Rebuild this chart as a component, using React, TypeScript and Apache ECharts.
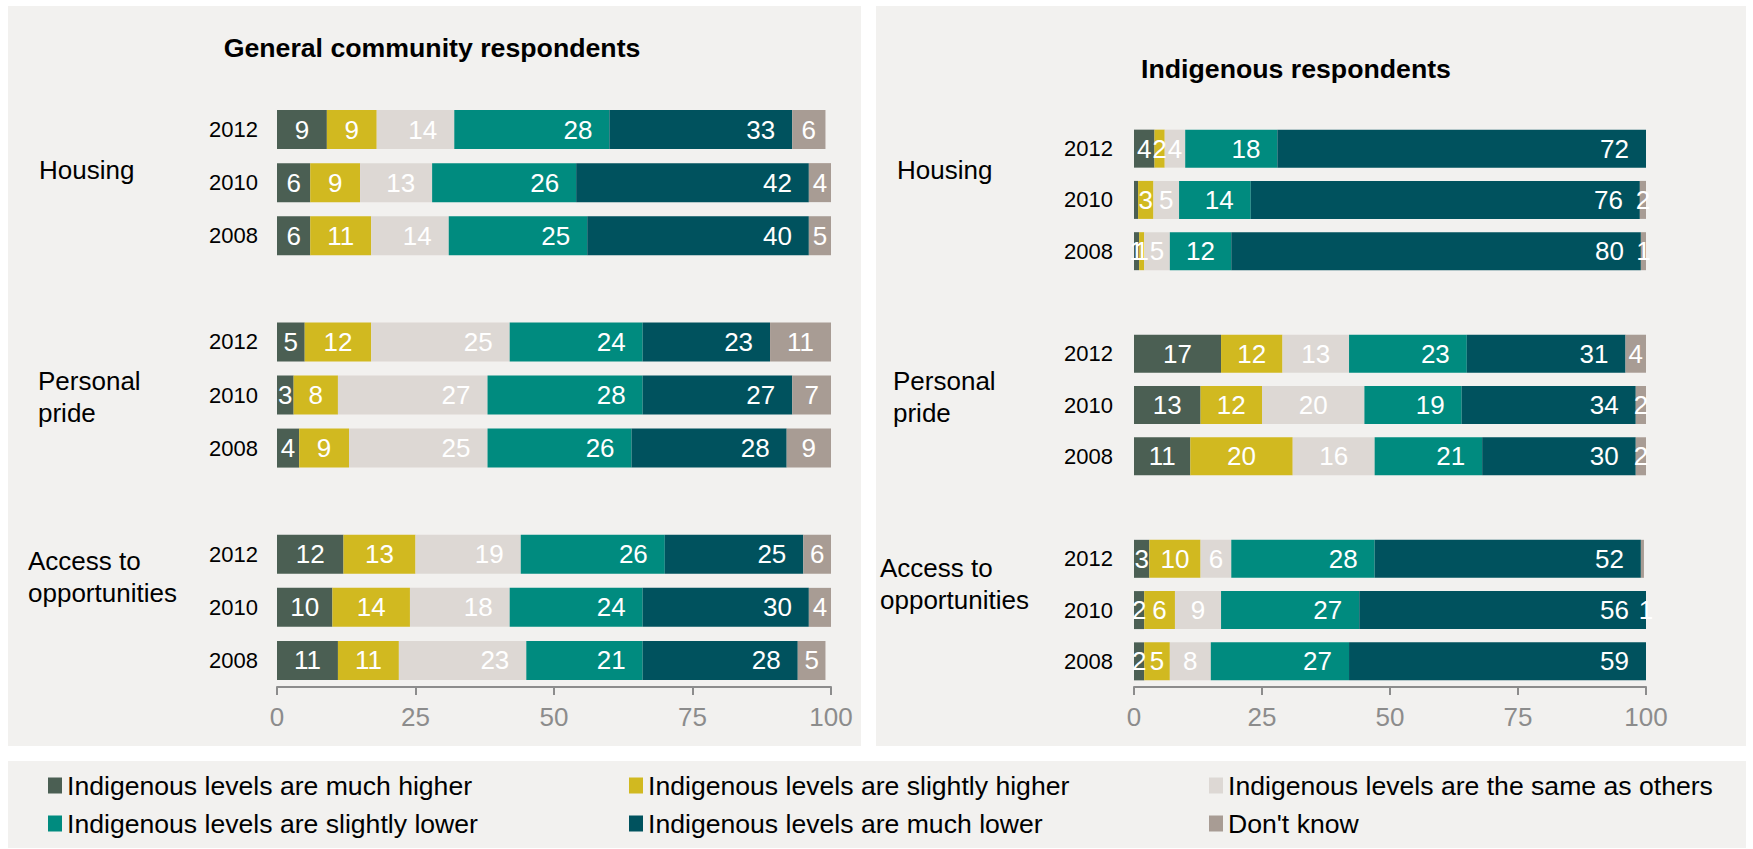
import React, { useEffect, useRef } from 'react';
import * as echarts from 'echarts';

// ---------- data ----------
const groups = ['Housing', 'Personal pride', 'Access to opportunities'];
const groupLabels = ['Housing', 'Personal\npride', 'Access to\nopportunities'];
const years = ['2012', '2010', '2008'];
const seriesNames = [
  'Indigenous levels are much higher',
  'Indigenous levels are slightly higher',
  'Indigenous levels are the same as others',
  'Indigenous levels are slightly lower',
  'Indigenous levels are much lower',
  "Don't know",
];
const colors = ['#4B5F53', '#D1B920', '#DDD8D4', '#008B7F', '#00525E', '#A89C94'];
const xTickMax = 100;
const xTickInterval = 25;
const titles = ['General community respondents', 'Indigenous respondents'];

// order: Housing 2012, 2010, 2008, Personal pride 2012, 2010, 2008, Access 2012, 2010, 2008
const genMuchHigher = [9, 6, 6, 5, 3, 4, 12, 10, 11];
const genSlightlyHigher = [9, 9, 11, 12, 8, 9, 13, 14, 11];
const genSame = [14, 13, 14, 25, 27, 25, 19, 18, 23];
const genSlightlyLower = [28, 26, 25, 24, 28, 26, 26, 24, 21];
const genMuchLower = [33, 42, 40, 23, 27, 28, 25, 30, 28];
const genDontKnow = [6, 4, 5, 11, 7, 9, 6, 4, 5];

const indMuchHigher = [4, 0.8, 1, 17, 13, 11, 3, 2, 2];
const indSlightlyHigher = [2, 3, 1, 12, 12, 20, 10, 6, 5];
const indSame = [4, 5, 5, 13, 20, 16, 6, 9, 8];
const indSlightlyLower = [18, 14, 12, 23, 19, 21, 28, 27, 27];
const indMuchLower = [72, 76, 80, 31, 34, 30, 52, 56, 59];
const indDontKnow = [0.4, 2, 1, 4, 2, 2, 0.6, 1, 0.6];

const genSeries = [genMuchHigher, genSlightlyHigher, genSame, genSlightlyLower, genMuchLower, genDontKnow];
const indSeries = [indMuchHigher, indSlightlyHigher, indSame, indSlightlyLower, indMuchLower, indDontKnow];

const FONT = '"Liberation Sans", Arial, Helvetica, sans-serif';

// ---------- layout ----------
const charts = [
  {
    grid: { left: 277, top: 103, width: 554, height: 584 },
    barWidth: 39,
    rightAligned: [2, 3, 4],
    yLabelMargin: 19,
    titleX: 432,
    titleY: 48,
    groupPos: [
      [39, 170],
      [38, 397],
      [28, 577],
    ],
    series: genSeries,
  },
  {
    grid: { left: 1134, top: 123, width: 512, height: 564 },
    barWidth: 38,
    rightAligned: [3, 4],
    yLabelMargin: 21,
    titleX: 1296,
    titleY: 69,
    groupPos: [
      [897, 170],
      [893, 397],
      [880, 584],
    ],
    series: indSeries,
  },
];

function buildCategories(): string[] {
  const cats: string[] = [];
  groups.forEach((g, gi) => {
    years.forEach((y) => cats.push(`${g}|${y}`));
    if (gi < groups.length - 1) cats.push(`gap${gi}`);
  });
  return cats;
}

function withGaps(values: number[], mapFn: (v: number) => any): any[] {
  const out: any[] = [];
  groups.forEach((_, gi) => {
    for (let yi = 0; yi < years.length; yi++) out.push(mapFn(values[gi * years.length + yi]));
    if (gi < groups.length - 1) out.push('-');
  });
  return out;
}

export default function App() {
  const ref = useRef<HTMLDivElement>(null);

  useEffect(() => {
    if (!ref.current) return;
    const chart = echarts.init(ref.current, undefined, { renderer: 'svg' });
    const cats = buildCategories();

    const grids: any[] = [];
    const xAxes: any[] = [];
    const yAxes: any[] = [];
    const series: any[] = [];
    const graphics: any[] = [
      { type: 'rect', z: -10, silent: true, shape: { x: 8, y: 6, width: 853, height: 740 }, style: { fill: '#F2F1EF' } },
      { type: 'rect', z: -10, silent: true, shape: { x: 876, y: 6, width: 870, height: 740 }, style: { fill: '#F2F1EF' } },
      { type: 'rect', z: -10, silent: true, shape: { x: 8, y: 761, width: 1738, height: 87 }, style: { fill: '#F2F1EF' } },
    ];

    charts.forEach((c, ci) => {
      grids.push({ ...c.grid, containLabel: false });
      xAxes.push({
        gridIndex: ci,
        type: 'value',
        min: 0,
        max: xTickMax,
        interval: xTickInterval,
        axisLine: { show: true, lineStyle: { color: '#8C8C8C', width: 2 } },
        axisTick: { show: true, length: 8, lineStyle: { color: '#8C8C8C', width: 2 } },
        axisLabel: { fontSize: 26, color: '#8C8C8C', margin: 17, fontFamily: FONT },
        splitLine: { show: false },
      });
      yAxes.push({
        gridIndex: ci,
        type: 'category',
        inverse: true,
        data: cats,
        axisLine: { show: false },
        axisTick: { show: false },
        axisLabel: {
          fontSize: 22,
          color: '#000',
          margin: c.yLabelMargin,
          fontFamily: FONT,
          formatter: (v: string) => (v.indexOf('|') >= 0 ? v.split('|')[1] : ''),
        },
      });
      const pxPerUnit = c.grid.width / xTickMax;
      c.series.forEach((vals, si) => {
        series.push({
          name: seriesNames[si],
          type: 'bar',
          xAxisIndex: ci,
          yAxisIndex: ci,
          stack: `s${ci}`,
          barWidth: c.barWidth,
          itemStyle: { color: colors[si] },
          label: { show: true, color: '#fff', fontSize: 26, fontFamily: FONT, position: 'inside' },
          data: withGaps(vals, (v) => {
            if (v < 1) return { value: v, label: { show: false } };
            const textW = String(v).length * 14.5;
            const segW = v * pxPerUnit;
            if (c.rightAligned.indexOf(si) >= 0 && segW >= textW + 34) {
              return { value: v, label: { show: true, position: 'insideRight', distance: 17 } };
            }
            return { value: v, label: { show: true, position: 'inside' } };
          }),
        });
      });
      graphics.push({
        type: 'text',
        x: c.titleX,
        y: c.titleY,
        style: {
          text: titles[ci],
          fontSize: 26.7,
          fontWeight: 'bold',
          fontFamily: FONT,
          fill: '#000',
          align: 'center',
          verticalAlign: 'middle',
          textAlign: 'center',
          textVerticalAlign: 'middle',
        },
      });
      groupLabels.forEach((g, gi) => {
        graphics.push({
          type: 'text',
          x: c.groupPos[gi][0],
          y: c.groupPos[gi][1],
          style: {
            text: g,
            fontSize: 26,
            fontFamily: FONT,
            fill: '#000',
            lineHeight: 32,
            align: 'left',
            verticalAlign: 'middle',
            textAlign: 'left',
            textVerticalAlign: 'middle',
          },
        });
      });
    });

    const legendBase = {
      orient: 'vertical',
      top: 772,
      itemWidth: 14,
      itemHeight: 16,
      itemGap: 11,
      icon: 'rect',
      padding: 0,
      selectedMode: false,
      textStyle: { fontSize: 26.6, color: '#000', fontFamily: FONT },
    };

    chart.setOption({
      animation: false,
      backgroundColor: '#FFFFFF',
      textStyle: { fontFamily: FONT },
      grid: grids,
      xAxis: xAxes,
      yAxis: yAxes,
      legend: [
        { ...legendBase, left: 48, data: [seriesNames[0], seriesNames[3]] },
        { ...legendBase, left: 629, data: [seriesNames[1], seriesNames[4]] },
        { ...legendBase, left: 1209, data: [seriesNames[2], seriesNames[5]] },
      ],
      graphic: graphics,
      series,
    });

    return () => chart.dispose();
  }, []);

  return (
    <div
      ref={ref}
      style={{ position: 'absolute', left: 0, top: 0, width: 1753, height: 849 }}
    />
  );
}
